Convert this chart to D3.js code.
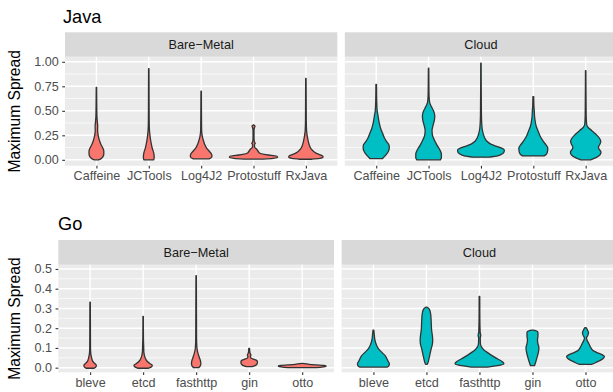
<!DOCTYPE html>
<html>
<head>
<meta charset="utf-8">
<script src="https://cdn.jsdelivr.net/npm/d3@7"></script>
<style>
  body { margin: 0; background: #fff; }
  svg text { font-family: "Liberation Sans", Arial, sans-serif; }
</style>
</head>
<body>
<svg width="613" height="392"></svg>
<script>
const javaLibs = ['Caffeine', 'JCTools', 'Log4J2', 'Protostuff', 'RxJava'];
const goLibs = ['bleve', 'etcd', 'fasthttp', 'gin', 'otto'];
const envLabels = ['Bare\u2212Metal', 'Cloud'];
const javaTicks = [0, 0.25, 0.5, 0.75, 1];
const goTicks = [0, 0.1, 0.2, 0.3, 0.4, 0.5];

// violin outlines: [maximum spread, density]
const javaBareMetal = [
  [[0,2],[0.01,4.5],[0.03,6.5],[0.06,7.5],[0.09,7.5],[0.12,6.5],[0.16,4.5],[0.2,3],[0.25,1.8],[0.3,1.2],[0.35,1.3],[0.38,1],[0.45,0.5],[0.6,0.3],[0.74,0.2]],
  [[0,5],[0.03,5.5],[0.07,5],[0.12,3.5],[0.18,2.2],[0.25,1.2],[0.3,0.7],[0.4,0.4],[0.6,0.3],[0.93,0.2]],
  [[0.01,8],[0.02,10],[0.04,11],[0.06,10.5],[0.09,8],[0.12,5.5],[0.16,3.5],[0.2,2.2],[0.24,1.2],[0.3,0.5],[0.5,0.3],[0.7,0.2]],
  [[0.008,10],[0.015,20],[0.025,24.5],[0.035,24],[0.045,18],[0.055,11],[0.07,6],[0.09,4.5],[0.11,3],[0.13,1],[0.16,1],[0.17,1.8],[0.18,1],[0.22,0.5],[0.3,0.5],[0.33,1],[0.345,1.5],[0.355,0.3]],
  [[0.006,6],[0.015,14],[0.03,17.5],[0.045,16],[0.06,12],[0.08,8.5],[0.11,5.5],[0.15,3.5],[0.2,2.2],[0.25,1.3],[0.3,0.7],[0.4,0.4],[0.6,0.3],[0.83,0.2]]
];
const javaCloud = [
  [[0.013,6.5],[0.04,9],[0.08,12],[0.12,13.3],[0.15,13],[0.18,11],[0.22,8.5],[0.27,6.5],[0.32,4.5],[0.38,3],[0.45,1.8],[0.5,1],[0.6,0.5],[0.77,0.3]],
  [[0,12],[0.02,13],[0.06,13],[0.1,11.5],[0.15,8.5],[0.2,6],[0.25,4],[0.3,3.5],[0.35,4.5],[0.4,5.8],[0.45,6.3],[0.5,5],[0.54,3],[0.58,1.2],[0.65,0.5],[0.8,0.3],[0.935,0.2]],
  [[0.027,8],[0.04,17],[0.06,21.5],[0.08,23.5],[0.1,23.7],[0.12,21],[0.14,15],[0.16,10],[0.19,6],[0.22,4],[0.26,2.5],[0.3,1.5],[0.34,1],[0.45,0.5],[0.7,0.3],[0.985,0.2]],
  [[0.04,11],[0.06,13.5],[0.09,14.5],[0.12,14.7],[0.15,13],[0.19,10],[0.24,7],[0.29,5],[0.34,3],[0.4,1.8],[0.45,1.2],[0.5,1],[0.55,0.6],[0.645,0.4]],
  [[0,5],[0.02,10],[0.05,14.5],[0.08,15.5],[0.11,13.5],[0.13,13],[0.16,14.5],[0.19,15.3],[0.22,14],[0.26,10.5],[0.3,6],[0.33,2.5],[0.36,1],[0.45,0.5],[0.7,0.3],[0.91,0.2]]
];
const goBareMetal = [
  [[-0.003,4],[0.005,6],[0.013,6.2],[0.02,5],[0.03,3],[0.04,2],[0.055,1.3],[0.07,0.7],[0.1,0.4],[0.2,0.3],[0.332,0.2]],
  [[-0.003,5],[0.005,8.5],[0.012,9.2],[0.02,7],[0.03,4.5],[0.04,3],[0.05,2],[0.065,1.2],[0.08,0.7],[0.1,0.6],[0.15,0.3],[0.26,0.2]],
  [[0,2.5],[0.008,4],[0.02,4.7],[0.035,4.3],[0.05,3.3],[0.065,2.3],[0.08,1.5],[0.1,0.8],[0.15,0.4],[0.3,0.3],[0.466,0.2]],
  [[0.005,3],[0.012,6.5],[0.02,8],[0.03,8.3],[0.038,7],[0.045,3.5],[0.05,1.5],[0.058,1.3],[0.064,1.8],[0.07,1.2],[0.08,0.6],[0.098,0.4]],
  [[0,8],[0.002,18],[0.005,23],[0.008,24],[0.011,22],[0.014,14],[0.017,7],[0.02,2.5],[0.022,0.5]]
];
const goCloud = [
  [[0.003,14],[0.01,15.5],[0.02,16],[0.03,15],[0.045,13.5],[0.06,12],[0.075,9],[0.09,6],[0.11,3.5],[0.13,2],[0.15,1.2],[0.17,0.8],[0.19,0.4]],
  [[0.017,0.8],[0.025,1.5],[0.04,2.3],[0.06,3.2],[0.09,4.5],[0.12,6],[0.14,6.3],[0.16,6],[0.19,5.2],[0.23,4.8],[0.27,4.3],[0.295,3],[0.303,1.5],[0.307,0.3]],
  [[0.003,8],[0.01,18],[0.02,24.5],[0.03,23],[0.045,18],[0.06,13],[0.075,8.5],[0.09,4.5],[0.105,2],[0.12,1],[0.15,0.8],[0.163,1.3],[0.18,0.7],[0.25,0.4],[0.361,0.3]],
  [[0.01,2],[0.025,3],[0.05,4.5],[0.08,6],[0.1,6.5],[0.12,5.5],[0.14,5],[0.16,5.5],[0.18,5.5],[0.188,3],[0.19,0.5]],
  [[0.017,6],[0.025,10],[0.035,14],[0.045,17.5],[0.056,19],[0.065,17],[0.075,12],[0.085,8],[0.1,5.5],[0.12,3.5],[0.14,1.5],[0.15,1],[0.165,2.5],[0.178,3],[0.19,2],[0.2,1],[0.203,0.3]]
];

const fills = ['#F8766D', '#00BFC4'];

const svg = d3.select('svg');

function drawRow(o) {
  const panelTop = o.stripTop + o.stripH;
  const y = d3.scaleLinear().domain(o.yDomain).range([o.panelBottom, panelTop]);
  const minor = d3.pairs(o.ticks).map(p => (p[0] + p[1]) / 2)
    .filter(v => v > o.yDomain[0] && v < o.yDomain[1]);

  svg.append('text')
    .attr('x', o.titleX).attr('y', o.titleY)
    .attr('font-size', 18.2).attr('fill', '#000')
    .text(o.title);

  svg.append('text')
    .attr('transform', 'translate(19.5,' + (panelTop + o.panelBottom) / 2 + ') rotate(-90)')
    .attr('text-anchor', 'middle')
    .attr('font-size', 15.6).attr('fill', '#000')
    .text('Maximum Spread');

  o.series.forEach((data, i) => {
    const x0 = o.left + i * (o.panelW + o.gap);
    const x = d3.scalePoint().domain(o.libs).range([x0, x0 + o.panelW]).padding(0.6);
    const dens = d3.scaleLinear().domain([0, 25]).range([0, 0.47 * x.step()]);
    const g = svg.append('g');

    // strip
    g.append('rect')
      .attr('x', x0).attr('y', o.stripTop)
      .attr('width', o.panelW).attr('height', o.stripH)
      .attr('fill', '#D9D9D9');
    g.append('text')
      .attr('x', x0 + o.panelW / 2).attr('y', o.stripTop + o.stripH / 2)
      .attr('dy', '0.35em').attr('text-anchor', 'middle')
      .attr('font-size', 12.7).attr('fill', '#1A1A1A')
      .text(envLabels[i]);

    // panel
    g.append('rect')
      .attr('x', x0).attr('y', panelTop)
      .attr('width', o.panelW).attr('height', o.panelBottom - panelTop)
      .attr('fill', '#EBEBEB');
    g.selectAll('.minor').data(minor).enter().append('line')
      .attr('x1', x0).attr('x2', x0 + o.panelW)
      .attr('y1', d => y(d)).attr('y2', d => y(d))
      .attr('stroke', '#fff').attr('stroke-width', 0.7);
    g.selectAll('.major').data(o.ticks).enter().append('line')
      .attr('x1', x0).attr('x2', x0 + o.panelW)
      .attr('y1', d => y(d)).attr('y2', d => y(d))
      .attr('stroke', '#fff').attr('stroke-width', 1.4);
    g.selectAll('.vgrid').data(o.libs).enter().append('line')
      .attr('x1', d => x(d)).attr('x2', d => x(d))
      .attr('y1', panelTop).attr('y2', o.panelBottom)
      .attr('stroke', '#fff').attr('stroke-width', 1.4);

    // violins
    o.libs.forEach((lib, j) => {
      const cx = x(lib);
      const area = d3.area()
        .y(d => y(d[0]))
        .x0(d => cx - dens(d[1]))
        .x1(d => cx + dens(d[1]))
        .curve(d3.curveMonotoneY);
      g.append('path')
        .datum(data[j])
        .attr('d', area)
        .attr('fill', fills[i])
        .attr('stroke', '#333333')
        .attr('stroke-width', 1.3)
        .attr('stroke-linejoin', 'round');
    });

    // x axis
    const xAxis = g.append('g')
      .attr('transform', 'translate(0,' + o.panelBottom + ')')
      .call(d3.axisBottom(x).tickSize(2.75).tickPadding(2.6));
    xAxis.select('.domain').remove();
    xAxis.selectAll('line').attr('stroke', '#333333').attr('stroke-width', 1.1);
    xAxis.selectAll('text')
      .attr('fill', '#4D4D4D').attr('font-size', 12.6)
      .attr('font-family', '"Liberation Sans", Arial, sans-serif');

    // y axis only on the first panel
    if (i === 0) {
      const yAxis = g.append('g')
        .attr('transform', 'translate(' + x0 + ',0)')
        .call(d3.axisLeft(y).tickValues(o.ticks).tickFormat(o.fmt).tickSize(2.75).tickPadding(3.6));
      yAxis.select('.domain').remove();
      yAxis.selectAll('line').attr('stroke', '#333333').attr('stroke-width', 1.1);
      yAxis.selectAll('text')
        .attr('fill', '#4D4D4D').attr('font-size', 12.6)
        .attr('font-family', '"Liberation Sans", Arial, sans-serif');
    }
  });
}

drawRow({
  title: 'Java', titleX: 63, titleY: 23,
  left: 65, panelW: 272.3, gap: 7.5,
  stripTop: 32.3, stripH: 24.5, panelBottom: 165.8,
  yDomain: [-0.061, 1.051], ticks: javaTicks, fmt: d3.format('.2f'),
  libs: javaLibs, series: [javaBareMetal, javaCloud]
});

drawRow({
  title: 'Go', titleX: 58, titleY: 230,
  left: 58.3, panelW: 275.7, gap: 7.6,
  stripTop: 240, stripH: 24.8, panelBottom: 372.3,
  yDomain: [-0.0234, 0.521], ticks: goTicks, fmt: d3.format('.1f'),
  libs: goLibs, series: [goBareMetal, goCloud]
});
</script>
</body>
</html>
